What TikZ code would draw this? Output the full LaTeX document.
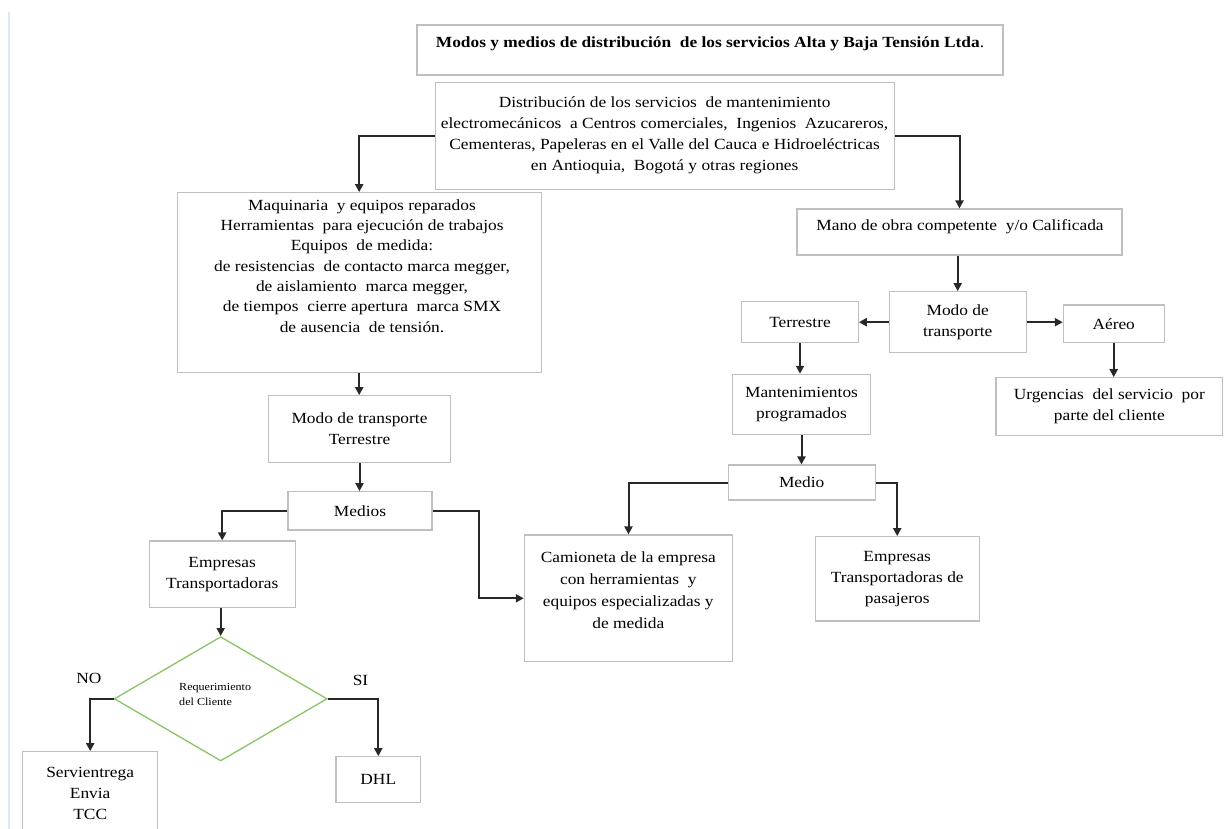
\documentclass[tikz,border=0pt]{standalone}
\usepackage{fontspec}
\setmainfont{Liberation Serif}[FakeStretch=1.12]
\usetikzlibrary{arrows.meta,shapes.geometric}

\definecolor{boxgray}{RGB}{191,191,191}
\definecolor{linkgray}{RGB}{40,40,40}
\definecolor{decgreen}{RGB}{137,196,102}
\definecolor{pageedge}{RGB}{222,229,244}

\tikzset{
  box/.style={draw=boxgray, line width=1.1pt, inner sep=0pt},
  txt/.style={font=\fontsize{15.5pt}{21pt}\selectfont, align=center, inner sep=0pt},
  link/.style={draw=linkgray, line width=2pt,
    -{Triangle[length=8pt,width=8pt]}},
}

\begin{document}
\begin{tikzpicture}[x=1pt,y=-1pt]
\useasboundingbox (0,0) rectangle (1226,829);
\clip (0,0) rectangle (1226,829);
\fill[white] (0,0) rectangle (1226,829);

% page edge on the left
\draw[pageedge, line width=1.5pt] (9,12) -- (9,829);

% heading
\node[box, minimum width=586pt, minimum height=50pt] (title) at (710,50) {};
\node[txt] (titletext) at (710,43.5) {\bfseries Modos y medios de distribución\ \ de los servicios Alta y Baja Tensión Ltda\mdseries.};

% main service box
\node[box, txt, minimum width=459pt, minimum height=107pt] (dist) at (664.6,135.7)
  {Distribución de los servicios\ \ de mantenimiento\\
   electromecánicos\ \ a Centros comerciales,\ \ Ingenios\ \ Azucareros,\\
   Cementeras, Papeleras en el Valle del Cauca e Hidroeléctricas\\
   en Antioquia,\ \ Bogotá y otras regiones};

% left branch: equipment
\node[box, minimum width=363.7pt, minimum height=180pt] (big) at (359.2,282.7) {};
\node[txt, font=\fontsize{15.5pt}{20.3pt}\selectfont] (bigtext) at (362,266)
  {Maquinaria\ \ y equipos reparados\\
   Herramientas\ \ para ejecución de trabajos\\
   Equipos\ \ de medida:\\
   de resistencias\ \ de contacto marca megger,\\
   de aislamiento\ \ marca megger,\\
   de tiempos\ \ cierre apertura\ \ marca SMX\\
   de ausencia\ \ de tensión.};

\node[box, txt, minimum width=182.4pt, minimum height=66.6pt] (mt) at (359.5,429)
  {Modo de transporte\\Terrestre};
\node[box, txt, minimum width=144pt, minimum height=38.3pt] (medios) at (360,510.8) {Medios};
\node[box, txt, minimum width=145.7pt, minimum height=66.7pt] (empt) at (222.2,574.3)
  {Empresas\\Transportadoras};

\node[draw=decgreen, line width=1.3pt, diamond, minimum width=213pt, minimum height=124.3pt,
  inner sep=0pt] (dia) at (220.7,698.8) {};
\node[font=\fontsize{10.8pt}{14.5pt}\selectfont, align=left, inner sep=0pt, anchor=west]
  (diatext) at (179,694.5) {Requerimiento\\del Cliente};

\node[txt] (no) at (89,678) {NO};
\node[txt] (si) at (360.5,680) {SI};

\node[box, txt, minimum width=135pt, minimum height=84.2pt] (serv) at (90.2,793.8)
  {Servientrega\\Envia\\TCC};
\node[box, txt, minimum width=84.7pt, minimum height=45.6pt] (dhl) at (378.3,779.5) {DHL};

% right branch: labour
\node[box, minimum width=325pt, minimum height=46pt] (mano) at (959.5,232) {};
\node[txt] (manotext) at (960,227) {Mano de obra competente\ \ y/o Calificada};

\node[box, txt, minimum width=136.7pt, minimum height=61pt] (modo) at (957.7,322.2)
  {Modo de\\transporte};
\node[box, txt, minimum width=116.6pt, minimum height=41pt] (terr) at (800,322.2) {Terrestre};
\node[box, txt, minimum width=100.7pt, minimum height=37.7pt] (aereo) at (1113.7,323.8) {Aéreo};
\node[box, txt, minimum width=226.7pt, minimum height=58pt] (urg) at (1109.3,406.7)
  {Urgencias\ \ del servicio\ \ por\\parte del cliente};
\node[box, txt, minimum width=138.4pt, minimum height=60pt] (mant) at (801.5,404.3)
  {Mantenimientos\\programados};
\node[box, txt, minimum width=146.7pt, minimum height=35pt] (medio) at (801.7,482.5) {Medio};

\node[box, minimum width=208.4pt, minimum height=126.7pt] (cam) at (628.5,598.3) {};
\node[txt, font=\fontsize{15.5pt}{22pt}\selectfont] (camtext) at (628.3,590)
  {Camioneta de la empresa\\con herramientas\ \ y\\equipos especializadas y\\de medida};
\node[box, txt, minimum width=164.3pt, minimum height=84.3pt] (pas) at (897.2,578.8)
  {Empresas\\Transportadoras\ de\\pasajeros};

% connectors
\draw[link] (dist.west) -| (big.north);
\draw[link] (dist.east) -| (mano.north);
\draw[link] (big.south) -- (big.south |- mt.north);
\draw[link] (mt.south) -- (mt.south |- medios.north);
\draw[link] (medios.west) -| (empt.north);
\draw[link] (medios.east) -- ++(46,0) |- (cam.west);
\draw[link] (dia.north |- empt.south) -- (dia.north);
\draw[link] (dia.west) -| (serv.north);
\draw[link] (dia.east) -| (dhl.north);

\draw[link] (modo.north |- mano.south) -- (modo.north);
\draw[link] (modo.west) -- (terr.east);
\draw[link] (modo.east) -- (modo.east -| aereo.west);
\draw[link] (aereo.south) -- (aereo.south |- urg.north);
\draw[link] (terr.south) -- (terr.south |- mant.north);
\draw[link] (mant.south) -- (mant.south |- medio.north);
\draw[link] (medio.west) -| (cam.north);
\draw[link] (medio.east) -| (pas.north);
\end{tikzpicture}
\end{document}
